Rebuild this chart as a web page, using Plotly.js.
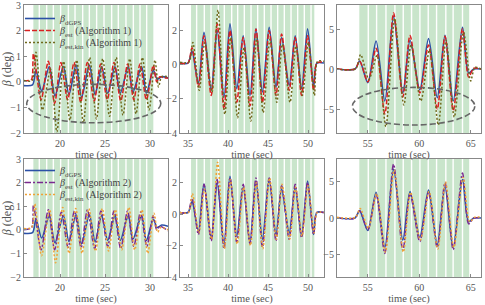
<!DOCTYPE html>
<html><head><meta charset="utf-8">
<script src="https://cdn.plot.ly/plotly-3.0.1.min.js"></script>
<style>html,body{margin:0;padding:0;background:#fff}#chart{width:485px;height:305px}</style>
</head><body><div id="chart"></div>
<script>
// ---------- manoeuvre (green) segment boundaries, seconds ----------
const seg1 = [17.04,17.70,18.52,19.26,20.07,20.93,21.67,22.52,23.26,24.07,24.89,25.74,26.48,27.33,28.15,28.89,29.63,30.37];
const seg2 = [35.38,36.08,37.04,37.88,38.79,39.54,40.46,41.21,42.04,42.88,43.71,44.54,45.38,46.21,47.04,47.88,48.71,49.54,50.38,50.79];
const seg3 = [54.17,55.04,55.85,56.76,57.63,58.44,59.25,60.06,60.87,61.68,62.58,63.29,64.20,64.85];

// ---------- run 1 (16-32 s) ----------
const gps1_t = [16.0,16.95,17.33,17.96,18.81,19.44,20.37,21.0,21.78,22.4,23.26,23.9,24.63,25.3,26.11,26.7,27.59,28.1,29.07,29.6,30.37,30.8,31.3,32.0];
const gps1_v = [-0.15,-0.12,0.45,-0.35,0.6,-0.55,0.6,-0.5,0.65,-0.6,0.65,-0.5,0.6,-0.45,0.6,-0.45,0.6,-0.4,0.6,-0.45,0.45,0.1,0.2,0.15];
const est1a_t = [16.0,16.5,16.85,17.05,17.9,18.7,19.4,20.1,20.85,21.56,22.3,23.04,23.8,24.52,25.25,26.0,26.75,27.52,28.2,28.89,29.6,30.37,30.75,31.1,31.6,32.0];
const est1a_v = [0.02,0.05,0.1,1.1,-0.7,0.8,-0.85,0.75,-0.7,0.75,-0.8,0.75,-0.75,0.7,-0.7,0.75,-0.75,0.7,-0.7,0.7,-0.7,0.65,0.0,0.2,0.15,0.15];
const kin1a_t = [16.0,16.9,17.33,18.05,18.95,19.65,20.4,21.1,21.85,22.6,23.3,24.05,24.75,25.5,26.25,27.0,27.75,28.45,29.15,29.9,30.55,30.95,31.3,32.0];
const kin1a_v = [0.05,0.05,1.15,-1.1,0.5,-1.95,0.8,-1.5,0.85,-1.6,0.95,-1.45,0.9,-1.35,0.95,-1.3,0.9,-1.25,0.95,-1.1,0.85,-0.2,0.2,0.2];
const est1b_t = [16.0,16.85,17.05,17.9,18.7,19.4,20.15,20.9,21.6,22.35,23.05,23.85,24.55,25.3,26.0,26.75,27.5,28.2,28.95,29.65,30.35,30.75,31.1,32.0];
const est1b_v = [0.0,0.1,1.05,-0.85,0.85,-0.85,0.75,-0.75,0.8,-0.75,0.85,-0.8,0.8,-0.7,0.8,-0.8,0.8,-0.7,0.75,-0.7,0.6,0.0,0.15,-0.05];
const kin1b_t = [16.0,16.85,17.2,17.95,18.85,19.5,20.3,21.0,21.75,22.45,23.2,23.95,24.7,25.4,26.15,26.85,27.65,28.3,29.1,29.75,30.45,30.85,31.2,32.0];
const kin1b_v = [0.05,0.1,1.1,-1.1,0.85,-1.4,0.95,-1.0,0.9,-1.0,0.9,-0.9,0.9,-0.9,0.85,-0.85,0.95,-0.85,0.85,-1.0,0.7,-0.1,0.1,0.0];

// ---------- run 2 (34-52 s) ----------
const gps2_t = [34.0,35.0,35.5,36.3,37.0,37.9,38.65,39.5,40.25,41.1,41.9,42.75,43.5,44.3,45.15,46.0,46.7,47.65,48.4,49.2,49.95,50.7,51.1,52.0];
const gps2_v = [0.1,0.1,0.8,-1.1,1.9,-1.5,2.0,-1.9,2.4,-1.4,1.7,-1.8,2.1,-1.6,2.2,-1.3,1.6,-1.2,1.7,-1.4,2.1,-1.3,0.1,0.1];
const est2a_v = [0.1,0.1,1.0,-1.3,1.7,-1.8,2.4,-2.6,2.0,-2.2,1.6,-2.4,2.1,-2.2,2.0,-1.8,1.8,-1.5,1.6,-1.8,1.7,-1.5,0.1,0.15];
const kin2a_t = [34.0,35.1,35.6,36.4,37.1,38.0,38.75,39.6,40.35,41.2,42.0,42.85,43.6,44.4,45.25,46.1,46.8,47.75,48.5,49.3,50.05,50.8,51.2,52.0];
const kin2a_v = [0.15,0.15,1.3,-1.5,1.3,-1.6,3.2,-2.9,1.6,-3.1,1.0,-3.3,1.6,-2.8,1.5,-2.2,1.2,-2.2,1.1,-1.8,1.3,-1.8,0.2,0.2];
const est2b_v = [0.1,0.1,1.0,-1.3,1.9,-1.7,2.2,-2.2,2.3,-1.8,1.9,-1.9,2.3,-2.1,2.3,-1.7,1.8,-1.6,1.9,-1.5,2.0,-1.3,0.1,0.1];
const kin2b_t = [34.0,35.05,35.55,36.35,37.05,37.95,38.7,39.55,40.3,41.15,41.95,42.8,43.55,44.35,45.2,46.05,46.75,47.7,48.45,49.25,50.0,50.75,51.15,52.0];
const kin2b_v = [0.1,0.1,1.3,-1.2,1.6,-1.6,3.3,-2.2,2.2,-1.9,1.7,-2.0,2.0,-2.2,2.3,-1.6,1.9,-1.6,1.7,-1.4,1.8,-1.2,0.1,0.1];

// ---------- run 3 (52-66 s) ----------
const gps3_t = [52.0,53.75,54.2,55.0,55.8,56.65,57.5,58.4,59.1,60.05,60.9,61.75,62.5,63.3,64.2,64.8,65.3,66.0];
const gps3_v = [0.0,0.0,1.0,-1.7,3.5,-4.0,6.6,-3.0,3.6,-2.6,3.8,-3.6,4.2,-4.0,5.2,-0.5,0.0,0.0];
const est3a_v = [0.0,0.0,1.0,-1.6,2.6,-5.6,7.0,-3.5,4.2,-3.0,3.0,-5.0,4.1,-5.2,5.0,-1.0,0.1,0.0];
const kin3a_t = [52.0,53.8,54.3,55.1,55.9,56.75,57.6,58.5,59.2,60.15,61.0,61.85,62.6,63.4,64.3,65.0,65.4,66.0];
const kin3a_v = [0.0,0.0,1.8,-1.3,1.7,-7.2,6.3,-4.5,3.0,-4.0,2.4,-7.0,3.6,-6.0,4.6,-1.5,0.2,0.0];
const est3b_v = [0.0,0.0,1.0,-1.6,3.2,-4.8,7.3,-4.4,3.3,-3.2,3.5,-4.0,4.8,-4.3,6.1,-0.8,0.0,0.0];
const kin3b_t = [52.0,53.8,54.25,55.05,55.85,56.7,57.55,58.45,59.15,60.1,60.95,61.8,62.55,63.35,64.25,64.9,65.4,66.0];
const kin3b_v = [0.1,0.1,1.3,-1.4,3.3,-4.6,6.5,-4.6,3.5,-3.0,3.6,-4.2,4.9,-4.0,5.5,-0.5,0.1,0.1];

// ---------- labels ----------
const names = ['<i>β</i><sub>dGPS</sub>',
  '<i>β</i><sub>est</sub> (Algorithm 1)', '<i>β</i><sub>est,kin</sub> (Algorithm 1)',
  '<i>β</i><sub>est</sub> (Algorithm 2)', '<i>β</i><sub>est,kin</sub> (Algorithm 2)'];
const xTicks = [[20,25,30],[35,40,45,50],[55,60,65]];
const yTicks = [[-2,-1,0,1,2,3],[-4,-2,0,2],[-5,0,5]];
const xRanges = [[16,32],[34,52],[52,66]];
const yRanges = [[-2,3],[-4,3.5],[-8,8]];

// ---------- styles ----------
const S = {
  gps:  {color:'#2b50a6', width:1.6, dash:'solid'},
  est1: {color:'#d92020', width:1.5, dash:'5px,2px'},
  kin1: {color:'#6f6a1c', width:1.5, dash:'2px,2px'},
  est2: {color:'#7a2a90', width:1.5, dash:'6px,2px,2px,2px'},
  kin2: {color:'#f0a236', width:1.5, dash:'2px,2px'}
};
const FONT = '"Liberation Serif", "Times New Roman", Times, serif';
function tr(x, y, st, ax, name, legend){
  return {x:x, y:y, type:'scatter', mode:'lines', name:name||' ',
    line:Object.assign({shape:'spline', smoothing:0.8}, st),
    xaxis:'x'+(ax===1?'':ax), yaxis:'y'+(ax===1?'':ax),
    showlegend:!!legend, legend:legend||'legend'};
}
const data = [
  tr(gps1_t,gps1_v,S.gps,1,names[0],'legend'),
  tr(est1a_t,est1a_v,S.est1,1,names[1],'legend2'),
  tr(kin1a_t,kin1a_v,S.kin1,1,names[2],'legend3'),
  tr(gps2_t,gps2_v,S.gps,2), tr(gps2_t,est2a_v,S.est1,2), tr(kin2a_t,kin2a_v,S.kin1,2),
  tr(gps3_t,gps3_v,S.gps,3), tr(gps3_t,est3a_v,S.est1,3), tr(kin3a_t,kin3a_v,S.kin1,3),
  tr(gps1_t,gps1_v,S.gps,4,names[0],'legend4'),
  tr(est1b_t,est1b_v,S.est2,4,names[3],'legend5'),
  tr(kin1b_t,kin1b_v,S.kin2,4,names[4],'legend6'),
  tr(gps2_t,gps2_v,S.gps,5), tr(gps2_t,est2b_v,S.est2,5), tr(kin2b_t,kin2b_v,S.kin2,5),
  tr(gps3_t,gps3_v,S.gps,6), tr(gps3_t,est3b_v,S.est2,6), tr(kin3b_t,kin3b_v,S.kin2,6)
];

const W=485, H=305;
const colPx = [[24,168],[180,324],[337,481]];
const rowPx = [[5,133],[159,277]];
const layout = {width:W, height:H, margin:{l:0,r:0,t:0,b:0},
  paper_bgcolor:'#fff', plot_bgcolor:'#fff', showlegend:true,
  font:{family:FONT, size:10, color:'#444'}, shapes:[], annotations:[]};
const segs = [seg1,seg2,seg3];
for (let r=0;r<2;r++) for (let c=0;c<3;c++){
  const k = r*3+c+1, sfx = k===1?'':k;
  layout['xaxis'+sfx] = {domain:[colPx[c][0]/W, colPx[c][1]/W], anchor:'y'+sfx, range:xRanges[c],
    tickvals:xTicks[c], ticks:'inside', ticklen:3, tickcolor:'#888', showline:true, linecolor:'#888', linewidth:1,
    mirror:true, showgrid:false, zeroline:false, tickfont:{family:FONT,size:10,color:'#555'},
    ticklabeloverflow:'allow', ticklabelstandoff:1,
    title:{text:'time (sec)', font:{family:FONT,size:10.5,color:'#555'}, standoff:2}};
  layout['yaxis'+sfx] = {domain:[1-rowPx[r][1]/H, 1-rowPx[r][0]/H], anchor:'x'+sfx, range:yRanges[c],
    tickvals:yTicks[c], ticks:'inside', ticklen:3, tickcolor:'#888', showline:true, linecolor:'#888', linewidth:1,
    mirror:true, showgrid:false, zeroline:false, tickfont:{family:FONT,size:10,color:'#555'},
    ticklabeloverflow:'allow'};
  if (c===0) layout['yaxis'+sfx].title = {text:'<i>β</i> (deg)', font:{family:FONT,size:12,color:'#555'}, standoff:3};
  const s = segs[c];
  layout.shapes.push({type:'rect', xref:'x'+sfx, yref:'y'+sfx+' domain', x0:s[0], x1:s[s.length-1], y0:0, y1:1,
    fillcolor:'#c9e5cb', line:{width:0}, layer:'below'});
  for (let i=1;i<s.length-1;i++) layout.shapes.push({type:'line', xref:'x'+sfx, yref:'y'+sfx+' domain',
    x0:s[i], x1:s[i], y0:0, y1:1, line:{color:'#ffffff', width:1.4}, layer:'below'});
}
// highlighted regions (dashed ellipses)
layout.shapes.push({type:'circle', xref:'x', yref:'y', x0:16.3, x1:31.2, y0:-1.6, y1:-0.1,
  line:{color:'#666', width:1.6, dash:'6px,3px'}, fillcolor:'rgba(0,0,0,0)'});
layout.shapes.push({type:'circle', xref:'x3', yref:'y3', x0:53.5, x1:65.4, y0:-7.0, y1:-2.3,
  line:{color:'#666', width:1.6, dash:'6px,3px'}, fillcolor:'rgba(0,0,0,0)'});
// one legend per entry so the rows sit close together
const legTops = [4,16,28,156,168,180];
['legend','legend2','legend3','legend4','legend5','legend6'].forEach((L,i)=>{
  layout[L] = {x:20/W, y:1-legTops[i]/H, xanchor:'left', yanchor:'top', bgcolor:'rgba(0,0,0,0)',
    borderwidth:0, font:{family:FONT,size:10,color:'#444'}, itemwidth:30, tracegroupgap:0};
});
Plotly.newPlot('chart', data, layout, {displayModeBar:false, staticPlot:true});
</script></body></html>
